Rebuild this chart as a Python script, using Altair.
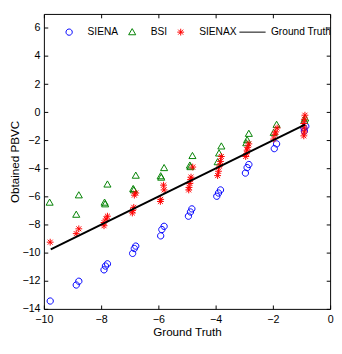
import altair as alt
import pandas as pd

# ---------------- data ----------------
series_names = ["SIENA", "BSI", "SIENAX", "Ground Truth"]
series_colors = ["#0000ff", "#008000", "#ff0000", "#000000"]

siena_x = [-9.78, -8.78, -8.87, -7.78, -7.85, -7.90, -6.79, -6.84, -6.90,
           -5.80, -5.88, -5.92, -4.83, -4.88, -4.95, -3.83, -3.90, -3.96,
           -2.84, -2.90, -2.96, -1.87, -1.95, -0.85, -0.90, -0.92]
siena_y = [-13.44, -12.03, -12.30, -10.79, -10.95, -11.22, -9.53, -9.70, -10.05,
           -8.12, -8.35, -8.80, -6.88, -7.10, -7.40, -5.53, -5.75, -5.98,
           -3.72, -3.94, -4.33, -2.25, -2.59, -1.00, -1.34, -1.10]

bsi_x = [-9.80, -8.78, -8.87, -7.78, -7.88, -7.86, -6.79, -6.88, -6.86,
         -5.80, -5.92, -5.90, -4.81, -4.90, -4.88, -3.80, -3.88, -3.93,
         -2.84, -2.90, -2.93, -1.87, -1.97, -0.87, -0.90]
bsi_y = [-6.43, -5.91, -7.29, -5.14, -6.43, -6.55, -4.51, -5.46, -5.55,
         -3.97, -4.55, -4.65, -3.11, -3.79, -3.90, -2.43, -2.93, -3.55,
         -1.53, -1.98, -2.20, -0.89, -1.46, -0.44, -0.60]

sienax_x = [-9.78, -8.78, -8.87, -7.78, -7.83, -7.90, -7.90,
            -6.79, -6.84, -6.86, -6.90, -6.91,
            -5.82, -5.80, -5.92, -5.93,
            -4.80, -4.86, -4.88, -4.90, -4.93, -4.94,
            -3.80, -3.83, -3.86, -3.90, -3.93,
            -2.84, -2.88, -2.90, -2.92, -2.95,
            -1.85, -1.90, -1.93, -1.97,
            -0.88, -0.90, -0.92, -0.90, -0.90, -0.92]
sienax_y = [-9.25, -8.30, -8.64, -7.40, -7.60, -7.85, -8.08,
            -5.75, -5.90, -6.77, -7.00, -7.17,
            -5.19, -5.53, -6.20, -6.35,
            -3.90, -4.62, -4.80, -5.07, -5.35, -5.53,
            -3.15, -3.50, -3.83, -4.20, -4.51,
            -2.25, -2.50, -2.70, -2.95, -3.15,
            -1.12, -1.40, -1.57, -1.91,
            -0.21, -0.50, -0.80, -1.12, -1.40, -1.68]

truth_x = [-9.76, -0.88]
truth_y = [-9.76, -0.88]

x_ticks = [-10, -8, -6, -4, -2, 0]
y_ticks = [-14, -12, -10, -8, -6, -4, -2, 0, 2, 4, 6]
x_lim = [-10, 0]
y_lim = [-14, 7]

# ---------------- tables ----------------
rows = []
for name, xs, ys in [("SIENA", siena_x, siena_y), ("BSI", bsi_x, bsi_y),
                     ("SIENAX", sienax_x, sienax_y)]:
    for a, b in zip(xs, ys):
        rows.append({"series": name, "x": a, "y": b, "order": len(rows)})
pts = pd.DataFrame(rows)
line_df = pd.DataFrame({"x": truth_x, "y": truth_y})

# ---------------- style ----------------
W, H = 295, 304
TK = 4
FONT = "Liberation Sans, Arial, sans-serif"
FS = 11
SYM = 729  # symbol box 27 px; shapes drawn in units of 13.5 px

shape_paths = [
    "M-0.24,0A0.24,0.24,0,1,1,0.24,0A0.24,0.24,0,1,1,-0.24,0Z",
    "M0,-0.27L0.27,0.2L-0.27,0.2Z",
    "M-0.26,0L0.26,0M0,-0.26L0,0.26M-0.19,-0.19L0.19,0.19M-0.19,0.19L0.19,-0.19",
    "M-1,0L1,0",
]

xscale = alt.Scale(domain=x_lim, nice=False, zero=False)
yscale = alt.Scale(domain=y_lim, nice=False, zero=False)

# grid lines dashed so that only a short inward tick shows at each edge of the box
x_axis = alt.Axis(values=x_ticks, ticks=False, domain=False, labelOverlap=False,
                  labelFlush=False, title="Ground Truth", labelPadding=5, titlePadding=2,
                  grid=True, gridColor="black", gridOpacity=1, gridWidth=1,
                  gridDash=[TK, H - 2 * TK, TK, 2 * H])
y_axis = alt.Axis(values=y_ticks, ticks=False, domain=False, labelOverlap=False,
                  labelFlush=False, title="Obtained PBVC", labelPadding=4, titlePadding=1,
                  grid=True, gridColor="black", gridOpacity=1, gridWidth=1,
                  gridDash=[TK, W - 2 * TK, TK, 2 * W])

legend = alt.Legend(orient="none", legendX=12, legendY=4.5, direction="horizontal",
                    title=None, symbolSize=SYM, symbolStrokeWidth=1, labelOffset=5,
                    columnPadding=0, labelFont=FONT, labelFontSize=10.5, labelColor="black",
                    padding=0, symbolFillColor="transparent")

points = alt.Chart(pts).mark_point(filled=False, size=SYM, strokeWidth=1, opacity=1).encode(
    x=alt.X("x:Q", scale=xscale, axis=x_axis),
    y=alt.Y("y:Q", scale=yscale, axis=y_axis),
    color=alt.Color("series:N", scale=alt.Scale(domain=series_names, range=series_colors), legend=legend),
    shape=alt.Shape("series:N", scale=alt.Scale(domain=series_names, range=shape_paths), legend=legend),
    order=alt.Order("order:Q"),
)

truth = alt.Chart(line_df).mark_line(color="black", strokeWidth=2).encode(
    x=alt.X("x:Q", scale=xscale, axis=x_axis),
    y=alt.Y("y:Q", scale=yscale, axis=y_axis),
)

chart = alt.layer(points, truth).properties(
    width=W, height=H,
    padding={"left": 0, "top": 1, "right": 0, "bottom": 0},
    background="white",
).configure_view(stroke="black", strokeWidth=1).configure_axis(
    labelColor="black", titleColor="black",
    labelFont=FONT, titleFont=FONT, labelFontSize=FS, titleFontSize=12,
    titleFontWeight="normal",
)

chart.save("out.html", embed_options={"renderer": "svg", "actions": False})
